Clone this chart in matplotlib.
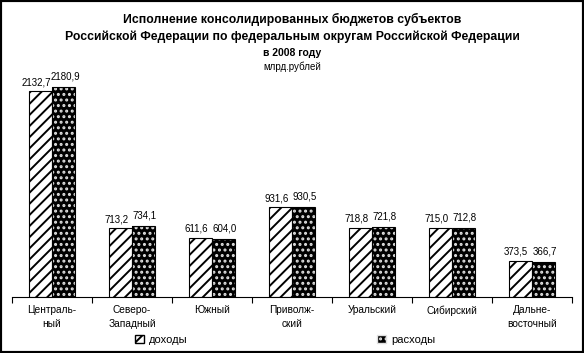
import numpy as np
import matplotlib
matplotlib.use("Agg")
import matplotlib.pyplot as plt
from matplotlib.patches import Patch, Rectangle

plt.rcParams['font.family'] = ['Liberation Sans', 'DejaVu Sans']
plt.rcParams['hatch.linewidth'] = 1.4

districts = ["Централь-\nный", "Северо-\nЗападный", "Южный", "Приволж-\nский",
             "Уральский", "Сибирский", "Дальне-\nвосточный"]
income = [2132.7, 713.2, 611.6, 931.6, 718.8, 715.0, 373.5]
expense = [2180.9, 734.1, 604.0, 930.5, 721.8, 712.8, 366.7]

fig = plt.figure(figsize=(5.84, 3.53), dpi=100)
ax = fig.add_axes([12/584, 56/353, 560/584, 241/353])

x = np.arange(len(districts))
w = 0.29

# доходы - white with diagonal hatch
ax.bar(x - w/2, income, w, facecolor='white', edgecolor='black', hatch='///', linewidth=0.8)
# расходы - black with small white dots, outline drawn on top
ax.bar(x + w/2, expense, w, facecolor='black', edgecolor='#e0e0e0', hatch='...', linewidth=0)
ax.bar(x + w/2, expense, w, facecolor='none', edgecolor='black', linewidth=0.8)

def fmt(v):
    return f"{v:.1f}".replace('.', ',')

for xi, v in zip(x - w/2, income):
    ax.annotate(fmt(v), (xi, v), xytext=(-3, 3), textcoords='offset points',
                ha='center', va='bottom', fontsize=7)
for xi, v in zip(x + w/2, expense):
    ax.annotate(fmt(v), (xi, v), xytext=(1, 4), textcoords='offset points',
                ha='center', va='bottom', fontsize=7)

ax.set_xlim(-0.5, len(districts) - 0.5)
ax.set_ylim(0, 2500)
for s in ['top', 'right', 'left']:
    ax.spines[s].set_visible(False)
ax.spines['bottom'].set_linewidth(0.8)
ax.set_yticks([])
ax.set_xticks(x)
ax.set_xticklabels(districts, fontsize=7.3, linespacing=1.4)
ax.tick_params(axis='x', which='major', length=0, pad=6)
ax.set_xticks(np.arange(len(districts) + 1) - 0.5, minor=True)
ax.tick_params(axis='x', which='minor', length=4, width=0.8)

fig.text(0.5, 1 - 19/353, "Исполнение консолидированных бюджетов субъектов",
         ha='center', va='center', fontsize=8.8, fontweight='bold')
fig.text(0.5, 1 - 37/353, "Российской Федерации по федеральным округам Российской Федерации",
         ha='center', va='center', fontsize=8.8, fontweight='bold')
fig.text(0.5, 1 - 53/353, "в 2008 году", ha='center', va='center', fontsize=7.5, fontweight='bold')
fig.text(0.5, 1 - 67/353, "млрд.рублей", ha='center', va='center', fontsize=7)

handles = [Patch(facecolor='white', edgecolor='black', hatch='///', label='доходы'),
           Patch(facecolor='black', edgecolor='#e0e0e0', hatch='...', label='расходы')]
fig.legend(handles=handles, loc='center', bbox_to_anchor=(0.488, 1 - 340/353), ncol=2,
           frameon=False, fontsize=8, handlelength=0.8, handleheight=0.8,
           handletextpad=0.5, columnspacing=17)

fig.patches.append(Rectangle((0, 0), 1, 1, transform=fig.transFigure, fill=False,
                             edgecolor='black', linewidth=3))

fig.savefig("out.png", dpi=100)
